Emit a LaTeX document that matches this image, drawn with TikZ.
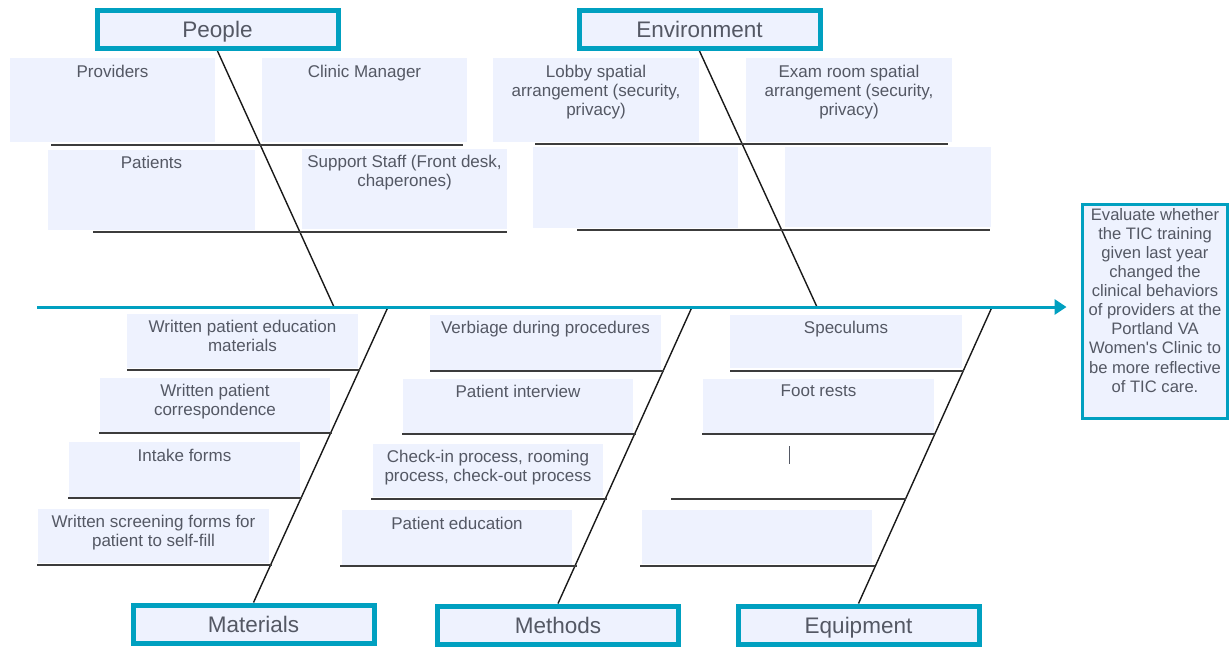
\documentclass[tikz,border=0pt]{standalone}
\usepackage{fontspec}
\setmainfont[Ligatures=TeXOff]{Liberation Sans}
\usetikzlibrary{arrows.meta,backgrounds}
\definecolor{teal1}{RGB}{0,160,192}
\definecolor{boxfill}{RGB}{238,242,254}
\definecolor{txt}{RGB}{84,88,100}
\definecolor{ink}{RGB}{25,25,25}
\newcommand\causebox[7]{%
  \node[cbox, minimum width={#4-#2}, minimum height={#5-#3}] (#1) at ({(#2+#4)/2},{(#3+#5)/2}) {};
  \node[ctext] (#1t) at ({(#2+#4)/2},#6) {#7};
}
\newcommand\emptybox[5]{%
  \node[cbox, minimum width={#4-#2}, minimum height={#5-#3}] (#1) at ({(#2+#4)/2},{(#3+#5)/2}) {};
}
\begin{document}
\begin{tikzpicture}[x=1pt,y=-1pt,
  hdr/.style={draw=teal1, line width=5pt, fill=boxfill, minimum width=241pt, minimum height=38pt,
    inner sep=0pt, text=txt, font=\fontsize{22.5}{27}\selectfont, text height=16pt, text depth=0pt},
  cbox/.style={fill=boxfill, draw=none, inner sep=0pt},
  ctext/.style={anchor=north, align=center, inner sep=0pt, text=txt, font=\fontsize{17}{19.2}\selectfont},
  effbox/.style={draw=teal1, line width=3pt, fill=boxfill, inner sep=0pt},
  efftext/.style={anchor=north, align=center, inner sep=0pt, text=txt, font=\fontsize{16.6}{19.1}\selectfont},
  spine/.style={draw=teal1, line width=3pt, -{Triangle[length=12pt,width=15pt]}},
  bone/.style={draw=ink, line width=1.4pt},
  uline/.style={draw=ink!85, line width=1.8pt},
]
\useasboundingbox (0,0) rectangle (1229,648);

% cause boxes (People)
\causebox{prov}{10}{58}{215}{142}{65}{Providers}
\causebox{clin}{262}{58}{467}{142}{65}{Clinic Manager}
\causebox{pat}{48}{150}{255}{230}{156}{Patients}
\causebox{supp}{302}{149}{507}{229}{155}{Support Staff (Front desk,\\chaperones)}
% Environment
\causebox{lobby}{493}{58}{699}{142}{65}{Lobby spatial\\arrangement (security,\\privacy)}
\causebox{exam}{746}{58}{952}{142}{65}{Exam room spatial\\arrangement (security,\\privacy)}
\emptybox{envA}{533}{147}{738}{228}
\emptybox{envB}{785}{147}{991}{227}
% Materials
\causebox{mat1}{127}{314}{358}{368}{320}{Written patient education\\materials}
\causebox{mat2}{100}{378}{330}{432}{384}{Written patient\\correspondence}
\causebox{mat3}{69}{442}{300}{497}{449}{Intake forms}
\causebox{mat4}{38}{509}{269}{563}{515}{Written screening forms for\\patient to self-fill}
% Methods
\causebox{met1}{430}{315}{661}{370}{321}{Verbiage during procedures}
\causebox{met2}{403}{379}{633}{433}{385}{Patient interview}
\causebox{met3}{373}{444}{603}{497}{450}{Check-in process, rooming\\process, check-out process}
\causebox{met4}{342}{510}{572}{565}{517}{Patient education}
% Equipment
\causebox{eq1}{730}{315}{962}{368}{321}{Speculums}
\causebox{eq2}{703}{379}{934}{433}{385}{Foot rests}
\emptybox{eq4}{642}{510}{872}{564}
\draw[draw=txt, line width=1pt] (789,446) -- (789,464);

% underlines
\draw[uline] (51,145) -- (463,145);
\draw[uline] (535,144) -- (948,144);
\draw[uline] (93,232) -- (507,232);
\draw[uline] (577,230) -- (990,230);
\draw[uline] (127,370) -- (360,370);
\draw[uline] (99,433) -- (331.5,433);
\draw[uline] (68,498) -- (302,498);
\draw[uline] (37,565) -- (272,565);
\draw[uline] (430,371) -- (664,371);
\draw[uline] (402,434) -- (635.5,434);
\draw[uline] (371,499) -- (606.5,499);
\draw[uline] (340,566) -- (576.5,566);
\draw[uline] (730,371) -- (963.5,371);
\draw[uline] (702,434) -- (935,434);
\draw[uline] (671,499) -- (905.5,499);
\draw[uline] (640,566) -- (875,566);

% category headers
\node[hdr] (people) at (217.5,29.5) {People};
\node[hdr] (env) at (699.5,29.5) {Environment};
\node[hdr] (mater) at (253.5,624) {Materials};
\node[hdr] (meth) at (558,625) {Methods};
\node[hdr] (equip) at (858.5,625) {Equipment};

% effect
\node[effbox, minimum width=145pt, minimum height=214pt] (effect) at (1155,311.5) {};
\node[efftext] (effectt) at (1155,208) {Evaluate whether\\the TIC training\\given last year\\changed the\\clinical behaviors\\of providers at the\\Portland VA\\Women's Clinic to\\be more reflective\\of TIC care.};

% spine coordinates
\coordinate (tail) at (37,307);
\coordinate (s1) at (334,307);
\coordinate (s2) at (817,307);
\coordinate (s3) at (388,307);
\coordinate (s4) at (692,307);
\coordinate (s5) at (992,307);

\begin{scope}[on background layer]
\draw[bone] (people.south) -- (s1);
\draw[bone] (env.south) -- (s2);
\draw[bone] (s3) -- (mater.north);
\draw[bone] (s4) -- (meth.north);
\draw[bone] (s5) -- (equip.north);
\end{scope}
\draw[spine, shorten >=14.5pt] (tail) -- (tail -| effect.west);
\end{tikzpicture}
\end{document}
